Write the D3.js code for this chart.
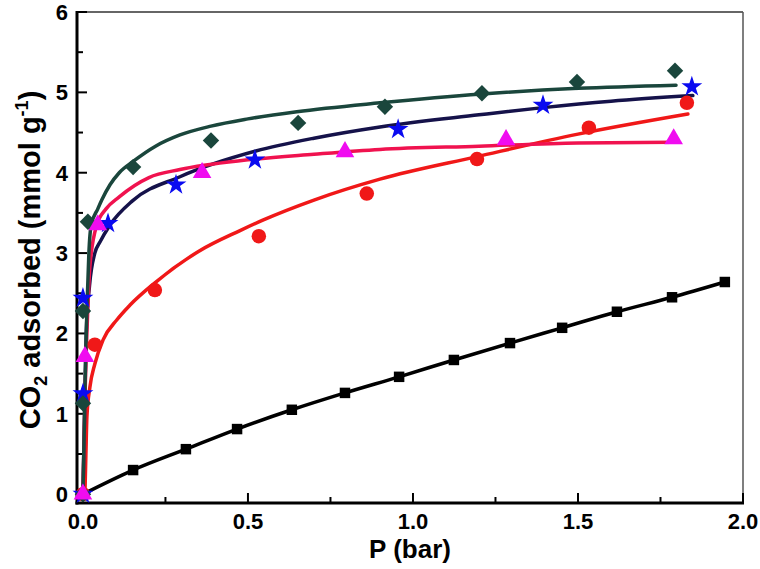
<!DOCTYPE html>
<html>
<head>
<meta charset="utf-8">
<script src="https://cdn.jsdelivr.net/npm/d3@7"></script>
<style>
  html, body { margin: 0; padding: 0; background: #fff; }
  svg { display: block; font-family: "Liberation Sans", Arial, sans-serif; }
</style>
</head>
<body>
<svg id="chart" width="760" height="569"></svg>
<script>
// ---------- data ----------
const xTickValues = [0, 0.5, 1.0, 1.5, 2.0];
const xTickLabels = ["0.0", "0.5", "1.0", "1.5", "2.0"];
const yTickValues = [0, 1, 2, 3, 4, 5, 6];
const yTickLabels = ["0", "1", "2", "3", "4", "5", "6"];

// black squares (connected)
const squareP = [0, 0.152, 0.312, 0.467, 0.633, 0.794, 0.958, 1.124, 1.294, 1.452, 1.618, 1.785, 1.945];
const squareQ = [0, 0.30, 0.56, 0.81, 1.05, 1.26, 1.46, 1.67, 1.88, 2.07, 2.27, 2.45, 2.64];

// dark teal diamonds + fit
const diamondP = [0, 0, 0, 0.015, 0.152, 0.388, 0.652, 0.915, 1.209, 1.497, 1.794];
const diamondQ = [0, 1.13, 2.28, 3.39, 4.07, 4.40, 4.62, 4.82, 4.99, 5.13, 5.27];
const tealFitP = [0, 0.004, 0.007, 0.012, 0.018, 0.025, 0.045, 0.057, 0.082, 0.11, 0.152, 0.22, 0.294, 0.388, 0.5, 0.648, 0.9, 1.209, 1.5, 1.797];
const tealFitQ = [0, 0.8, 1.5, 2.3, 3.0, 3.35, 3.55, 3.66, 3.85, 4.0, 4.14, 4.33, 4.47, 4.58, 4.67, 4.76, 4.87, 4.98, 5.05, 5.09];

// blue stars + navy fit
const starP = [0, 0, 0, 0.076, 0.282, 0.521, 0.955, 1.394, 1.845];
const starQ = [0, 1.25, 2.44, 3.37, 3.85, 4.16, 4.54, 4.84, 5.07];
const navyFitP = [0, 0.005, 0.01, 0.02, 0.036, 0.052, 0.082, 0.15, 0.294, 0.524, 0.7, 0.9, 1.2, 1.394, 1.6, 1.848];
const navyFitQ = [0, 1.0, 2.0, 2.6, 3.0, 3.14, 3.35, 3.65, 3.95, 4.27, 4.43, 4.57, 4.72, 4.81, 4.89, 4.96];

// magenta triangles + crimson fit
const triP = [0, 0.006, 0.045, 0.361, 0.794, 1.282, 1.79];
const triQ = [0, 1.71, 3.35, 4.00, 4.26, 4.41, 4.42];
const pinkFitP = [0, 0.004, 0.008, 0.012, 0.021, 0.042, 0.07, 0.11, 0.2, 0.294, 0.5, 0.7, 0.9, 1.2, 1.5, 1.797];
const pinkFitQ = [0, 0.8, 1.5, 2.0, 2.83, 3.35, 3.55, 3.7, 3.94, 4.04, 4.16, 4.23, 4.29, 4.33, 4.37, 4.38];

// red circles + red fit
const circleP = [0, 0.036, 0.218, 0.533, 0.86, 1.194, 1.533, 1.83];
const circleQ = [0, 1.86, 2.54, 3.21, 3.74, 4.17, 4.56, 4.87];
const redFitP = [0.006, 0.009, 0.012, 0.021, 0.036, 0.061, 0.103, 0.142, 0.218, 0.35, 0.476, 0.545, 0.7, 0.9, 1.194, 1.5, 1.833];
const redFitQ = [0, 0.5, 0.96, 1.33, 1.62, 1.92, 2.17, 2.35, 2.63, 3.02, 3.28, 3.41, 3.66, 3.92, 4.2, 4.48, 4.73];

// ---------- layout ----------
const svg = d3.select("#chart");
const L = 77, R = 743, T = 12, B = 503;
const x = d3.scaleLinear().domain([-0.018, 2.0]).range([L, R]);
const y = d3.scaleLinear().domain([-0.11, 6.0]).range([B, T]);

const zip = (a, b) => a.map((v, i) => [v, b[i]]);

const colors = {
  black: "#000000",
  teal: "#1a463c",
  navy: "#15124a",
  pink: "#f0124f",
  magenta: "#f00cf0",
  red: "#f01818",
  blue: "#0a0af0"
};

// frame: thin top/right
svg.append("line").attr("x1", L).attr("x2", R).attr("y1", T).attr("y2", T)
  .attr("stroke", "#333").attr("stroke-width", 1.5);
svg.append("line").attr("x1", R).attr("x2", R).attr("y1", T).attr("y2", B)
  .attr("stroke", "#555").attr("stroke-width", 1.5);

// ticks (inward)
const xMinor = d3.range(0.25, 2.0, 0.5);
const yMinor = d3.range(0.5, 6.0, 1.0);
const tickG = svg.append("g").attr("stroke", "#000").attr("stroke-width", 2);
xTickValues.forEach(v => tickG.append("line").attr("x1", x(v)).attr("x2", x(v)).attr("y1", B).attr("y2", B - 10));
xMinor.forEach(v => tickG.append("line").attr("x1", x(v)).attr("x2", x(v)).attr("y1", B).attr("y2", B - 6));
yTickValues.forEach(v => tickG.append("line").attr("x1", L).attr("x2", L + 10).attr("y1", y(v)).attr("y2", y(v)));
yMinor.forEach(v => tickG.append("line").attr("x1", L).attr("x2", L + 6).attr("y1", y(v)).attr("y2", y(v)));

// thick left/bottom axis
svg.append("line").attr("x1", L).attr("x2", L).attr("y1", T - 1).attr("y2", B + 1.5)
  .attr("stroke", "#000").attr("stroke-width", 3);
svg.append("line").attr("x1", L - 1.5).attr("x2", R + 1).attr("y1", B).attr("y2", B)
  .attr("stroke", "#000").attr("stroke-width", 3);

// tick labels
svg.append("g").selectAll("text").data(xTickValues).join("text")
  .attr("x", d => x(d)).attr("y", 529)
  .attr("text-anchor", "middle").attr("font-size", 22).attr("font-weight", "bold")
  .text((d, i) => xTickLabels[i]);
svg.append("g").selectAll("text").data(yTickValues).join("text")
  .attr("x", 68).attr("y", d => y(d)).attr("dy", "0.36em")
  .attr("text-anchor", "end").attr("font-size", 22).attr("font-weight", "bold")
  .text((d, i) => yTickLabels[i]);

// axis titles
svg.append("text").attr("x", 410).attr("y", 558)
  .attr("text-anchor", "middle").attr("font-size", 26).attr("font-weight", "bold")
  .text("P (bar)");

const yt = svg.append("text")
  .attr("transform", "translate(40,260) rotate(-90)")
  .attr("text-anchor", "middle").attr("font-size", 29).attr("font-weight", "bold");
yt.append("tspan").text("CO");
yt.append("tspan").attr("font-size", 18).attr("dy", 7).text("2");
yt.append("tspan").attr("dy", -7).text(" adsorbed (mmol g");
yt.append("tspan").attr("font-size", 18).attr("dy", -12).text("-1");
yt.append("tspan").attr("dy", 12).text(")");

// ---------- lines ----------
const lineGen = d3.line().x(d => x(d[0])).y(d => y(d[1])).curve(d3.curveMonotoneX);
const lines = [
  [zip(squareP, squareQ), colors.black],
  [zip(redFitP, redFitQ), colors.red],
  [zip(navyFitP, navyFitQ), colors.navy],
  [zip(pinkFitP, pinkFitQ), colors.pink],
  [zip(tealFitP, tealFitQ), colors.teal]
];
svg.append("g").selectAll("path").data(lines).join("path")
  .attr("d", d => lineGen(d[0]))
  .attr("fill", "none").attr("stroke", d => d[1]).attr("stroke-width", 3.5)
  .attr("stroke-linejoin", "round").attr("stroke-linecap", "round");

// ---------- markers ----------
function markers(P, Q, type, size, color, rot) {
  svg.append("g").selectAll("path").data(zip(P, Q)).join("path")
    .attr("d", d3.symbol().type(type).size(size))
    .attr("transform", d => `translate(${x(d[0])},${y(d[1])})` + (rot ? ` rotate(${rot})` : ""))
    .attr("fill", color);
}
markers(squareP, squareQ, d3.symbolSquare, 110, colors.black);
markers(circleP, circleQ, d3.symbolCircle, 165, colors.red);
markers(starP, starQ, d3.symbolStar, 135, colors.blue);
markers(diamondP, diamondQ, d3.symbolSquare, 135, colors.teal, 45);
markers(triP, triQ, d3.symbolTriangle, 150, colors.magenta);
</script>
</body>
</html>
